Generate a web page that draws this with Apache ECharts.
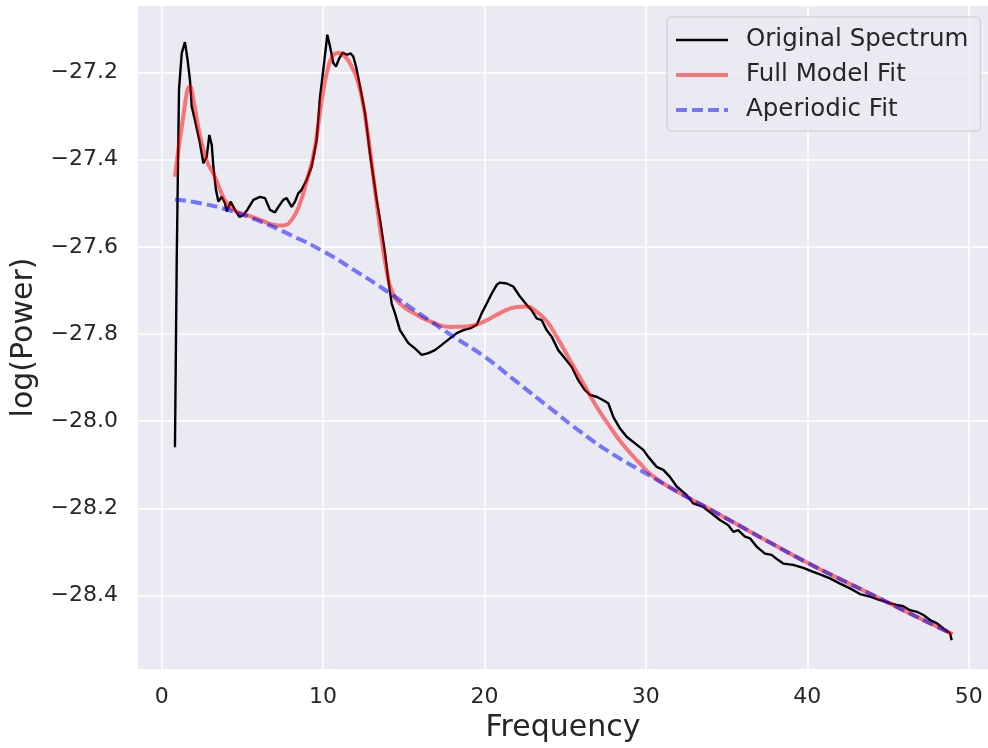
<!DOCTYPE html>
<html>
<head>
<meta charset="utf-8">
<script src="https://cdn.jsdelivr.net/npm/echarts@6/dist/echarts.min.js"></script>
<style>
html,body{margin:0;padding:0;background:#ffffff;}
#chart{width:988px;height:748px;}
</style>
</head>
<body>
<div id="chart"></div>
<script>
// ---- Data ----
const origFreq = [0.82,0.93,1.07,1.24,1.44,1.6,1.75,1.86,2.06,2.37,2.58,2.79,2.95,3.1,3.2,3.36,3.51,3.72,3.92,4.03,4.27,4.54,4.81,5.06,5.3,5.68,6.09,6.4,6.71,7.02,7.23,7.53,7.74,8.05,8.26,8.46,8.67,8.98,9.29,9.6,9.81,10.01,10.26,10.43,10.63,10.8,11.0,11.21,11.46,11.71,11.87,12.04,12.29,12.6,12.9,13.11,13.32,13.53,13.84,14.04,14.25,14.45,14.76,15.28,15.69,16.11,16.52,16.93,17.35,17.86,18.28,18.69,19.1,19.52,19.83,20.14,20.45,20.76,20.96,21.38,21.78,22.2,22.61,22.92,23.23,23.54,23.85,24.16,24.57,24.99,25.4,25.81,26.23,26.54,26.95,27.36,27.67,27.98,28.4,28.81,29.33,29.84,30.15,30.67,31.08,31.49,31.91,32.53,32.94,33.56,34.08,34.59,35.11,35.42,35.72,36.14,36.45,36.86,37.38,37.79,38.2,38.51,39.13,39.75,40.37,40.79,41.41,42.03,42.65,43.27,43.89,44.51,45.13,45.54,45.95,46.36,46.8,47.2,47.62,48.03,48.44,48.85,48.95];
const origPower = [-28.06,-27.63,-27.24,-27.155,-27.13,-27.17,-27.217,-27.278,-27.309,-27.362,-27.408,-27.393,-27.343,-27.366,-27.416,-27.469,-27.496,-27.485,-27.5,-27.519,-27.496,-27.515,-27.531,-27.527,-27.515,-27.492,-27.485,-27.488,-27.515,-27.521,-27.508,-27.492,-27.488,-27.508,-27.496,-27.477,-27.469,-27.446,-27.416,-27.355,-27.255,-27.194,-27.113,-27.14,-27.178,-27.186,-27.167,-27.154,-27.159,-27.156,-27.163,-27.186,-27.232,-27.293,-27.385,-27.439,-27.492,-27.538,-27.615,-27.676,-27.73,-27.752,-27.791,-27.821,-27.833,-27.848,-27.844,-27.837,-27.825,-27.81,-27.798,-27.791,-27.787,-27.779,-27.752,-27.73,-27.707,-27.687,-27.682,-27.684,-27.691,-27.714,-27.733,-27.745,-27.764,-27.768,-27.791,-27.806,-27.837,-27.856,-27.875,-27.906,-27.929,-27.94,-27.944,-27.952,-27.959,-27.99,-28.017,-28.036,-28.051,-28.066,-28.082,-28.105,-28.112,-28.128,-28.15,-28.17,-28.189,-28.197,-28.212,-28.227,-28.239,-28.254,-28.25,-28.265,-28.269,-28.288,-28.304,-28.307,-28.319,-28.327,-28.33,-28.337,-28.346,-28.352,-28.361,-28.373,-28.384,-28.397,-28.403,-28.411,-28.418,-28.422,-28.425,-28.434,-28.438,-28.445,-28.457,-28.464,-28.476,-28.487,-28.503];

const fitFreq = [0.82,1.3,1.75,2.0,2.37,2.79,3.2,3.6,4.0,4.6,5.3,6.1,6.9,7.5,8.05,8.57,9.0,9.4,9.7,10.0,10.3,10.63,10.94,11.36,11.77,12.08,12.39,12.7,13.01,13.32,13.63,13.94,14.25,14.76,15.8,16.83,17.86,18.9,19.93,20.96,22.0,22.61,23.23,23.85,24.47,25.3,26.12,26.95,27.78,28.6,29.63,30.5,32,34,36,38,40,42,44,46,48,49];
const fitPower = [-27.439,-27.31,-27.232,-27.27,-27.345,-27.402,-27.432,-27.467,-27.498,-27.518,-27.527,-27.538,-27.549,-27.551,-27.538,-27.5,-27.446,-27.39,-27.32,-27.245,-27.19,-27.16,-27.155,-27.163,-27.186,-27.212,-27.255,-27.324,-27.408,-27.5,-27.584,-27.655,-27.7,-27.73,-27.756,-27.774,-27.784,-27.783,-27.772,-27.752,-27.738,-27.737,-27.749,-27.77,-27.806,-27.86,-27.913,-27.967,-28.013,-28.055,-28.097,-28.128,-28.163,-28.203,-28.244,-28.285,-28.325,-28.362,-28.398,-28.435,-28.471,-28.489];

const apFreq = [0.82,2,4,6,8,10,12,14,16,18,20,22,24,26,28,30,32,34,36,38,40,42,44,46,48,49];
const apPower = [-27.492,-27.497,-27.514,-27.54,-27.573,-27.61,-27.655,-27.703,-27.754,-27.804,-27.852,-27.91,-27.968,-28.026,-28.077,-28.12,-28.163,-28.203,-28.244,-28.285,-28.325,-28.362,-28.398,-28.435,-28.471,-28.489];

const xTicks = [0,10,20,30,40,50];
const yTicks = [-28.4,-28.2,-28.0,-27.8,-27.6,-27.4,-27.2];

const seriesNames = ['Original Spectrum','Full Model Fit','Aperiodic Fit'];

// ---- Chart ----
const pairs = (xs, ys) => xs.map((x, i) => [x, ys[i]]);
const fmtMinus = v => String(v).replace('-', '\u2212');
const FONT = 'DejaVu Sans';
const TXT = '#262626';

const chart = echarts.init(document.getElementById('chart'), null, {renderer: 'canvas'});
chart.setOption({
  animation: false,
  backgroundColor: '#ffffff',
  textStyle: {fontFamily: FONT},
  grid: {left: 138, right: 0, top: 6, bottom: 79, show: true, backgroundColor: '#EAEAF2', borderWidth: 0,
         containLabel: false, outerBoundsMode: 'none'},
  legend: {
    orient: 'vertical',
    left: 667, top: 17,
    padding: [8, 12, 6, 7],
    backgroundColor: 'rgba(234,234,242,0.8)',
    borderColor: '#cccccc',
    borderWidth: 1,
    borderRadius: 4,
    itemWidth: 52,
    itemHeight: 14,
    itemGap: 5,
    itemStyle: {opacity: 0, borderWidth: 0},
    lineStyle: {width: 'inherit'},
    textStyle: {fontFamily: FONT, fontSize: 24.5, color: TXT, lineHeight: 30, padding: [0, 0, 0, 13]},
    data: seriesNames
  },
  xAxis: {
    type: 'value',
    min: -1.47, max: 51.2,
    name: 'Frequency',
    nameLocation: 'middle',
    nameGap: 41,
    nameTextStyle: {fontFamily: FONT, fontSize: 30, color: TXT},
    axisLine: {show: false},
    axisTick: {show: false, customValues: xTicks},
    axisLabel: {customValues: xTicks, margin: 17, fontFamily: FONT, fontSize: 22, color: TXT, formatter: v => fmtMinus(v)},
    splitLine: {show: true, lineStyle: {color: '#ffffff', width: 1.5}}
  },
  yAxis: {
    type: 'value',
    min: -28.569, max: -27.047,
    name: 'log(Power)',
    nameLocation: 'middle',
    nameGap: 85,
    nameTextStyle: {fontFamily: FONT, fontSize: 30, color: TXT},
    axisLine: {show: false},
    axisTick: {show: false, customValues: yTicks},
    axisLabel: {customValues: yTicks, margin: 20, fontFamily: FONT, fontSize: 22, color: TXT, formatter: v => fmtMinus(v.toFixed(1))},
    splitLine: {show: true, lineStyle: {color: '#ffffff', width: 1.5}}
  },
  series: [
    {name: seriesNames[0], type: 'line', data: pairs(origFreq, origPower), symbol: 'none', color: '#000000',
     lineStyle: {color: '#000000', width: 2.4}, z: 2},
    {name: seriesNames[1], type: 'line', data: pairs(fitFreq, fitPower), symbol: 'none', smooth: 0.5,
     color: 'rgba(255,0,0,0.5)', lineStyle: {color: 'rgba(255,0,0,0.5)', width: 4}, z: 3},
    {name: seriesNames[2], type: 'line', data: pairs(apFreq, apPower), symbol: 'none', smooth: 0.5,
     color: 'rgba(0,0,255,0.5)', lineStyle: {color: 'rgba(0,0,255,0.5)', width: 4, type: [11, 5]}, z: 4}
  ]
});
</script>
</body>
</html>
